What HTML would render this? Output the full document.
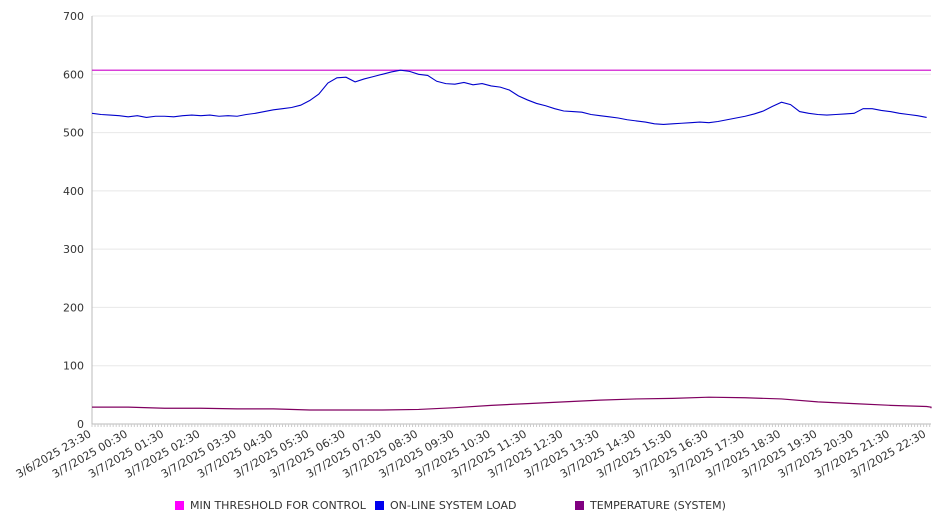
<!DOCTYPE html>
<html><head><meta charset="utf-8"><style>
body{margin:0;background:#fff;}
svg{display:block;font-family:"DejaVu Sans","Liberation Sans",sans-serif;}
</style></head><body>
<svg id="chart" width="946" height="526">
<g id="grid"></g>
<g id="yaxis"></g>
<g id="xaxis"></g>
<g id="series"></g>
<g font-size="11" fill="#333">
 <g><rect x="175" y="501" width="9" height="9" fill="#ff00ff"/><text x="190" y="509">MIN THRESHOLD FOR CONTROL</text></g>
 <g><rect x="375" y="501" width="9" height="9" fill="#0000ee"/><text x="390" y="509">ON-LINE SYSTEM LOAD</text></g>
 <g><rect x="575" y="501" width="9" height="9" fill="#800080"/><text x="590" y="509">TEMPERATURE (SYSTEM)</text></g>
</g>
</svg>
<script>
const xLabels=["3/6/2025 23:30","3/7/2025 00:30","3/7/2025 01:30","3/7/2025 02:30","3/7/2025 03:30","3/7/2025 04:30","3/7/2025 05:30","3/7/2025 06:30","3/7/2025 07:30","3/7/2025 08:30","3/7/2025 09:30","3/7/2025 10:30","3/7/2025 11:30","3/7/2025 12:30","3/7/2025 13:30","3/7/2025 14:30","3/7/2025 15:30","3/7/2025 16:30","3/7/2025 17:30","3/7/2025 18:30","3/7/2025 19:30","3/7/2025 20:30","3/7/2025 21:30","3/7/2025 22:30"];
const yTicks=[0,100,200,300,400,500,600,700];
const threshold=607;
// system load, every 15 minutes from 23:30
const loadValues=[533,531,530,529,527,529,526,528,528,527,529,530,529,530,528,529,528,531,533,536,539,541,543,547,555,566,585,594,595,587,592,596,600,604,607,605,600,598,588,584,583,586,582,584,580,578,573,563,556,550,546,541,537,536,535,531,529,527,525,522,520,518,515,514,515,516,517,518,517,519,522,525,528,532,537,545,552,548,536,533,531,530,531,532,533,541,541,538,536,533,531,529,526];
// temperature, hourly from 23:30
const tempValues=[29,29,27,27,26,26,24,24,24,25,28,32,35,38,41,43,44,46,45,43,38,35,32,30,29,27];
const NS="http://www.w3.org/2000/svg";
const X0=92,X1=931,Y0=424,Y1=16,HMAX=23.12;
const xs=h=>X0+(X1-X0)*h/HMAX;
const ys=v=>Y0-(Y0-Y1)*v/700;
function mk(tag,parent,attrs){const e=document.createElementNS(NS,tag);for(const k in attrs)e.setAttribute(k,attrs[k]);parent.appendChild(e);return e;}
const grid=document.getElementById('grid'),ya=document.getElementById('yaxis'),xa=document.getElementById('xaxis'),se=document.getElementById('series');
yTicks.forEach(v=>{
 const l=mk('line',grid,{x1:X0,x2:X1,y1:ys(v),y2:ys(v),stroke:v===0?'#bbb':'#e8e8e8'});
 
 
 const t=mk('text',ya,{x:84,y:ys(v)+4,'text-anchor':'end','font-size':11,fill:'#333'});
 t.textContent=v;
 
 
});
mk('line',ya,{x1:X0,x2:X0,y1:Y1,y2:Y0,stroke:'#bbb'});
for(let m=0;m<=HMAX*60;m+=5){mk('line',xa,{x1:xs(m/60),x2:xs(m/60),y1:Y0,y2:Y0+3,stroke:'#ccc'});}
xLabels.forEach((s,i)=>{
 const x=xs(i),y=Y0+12;
 const t=mk('text',xa,{x:x,y:y,'text-anchor':'end','font-size':11,fill:'#333',transform:`rotate(-30 ${x} ${y})`});
 t.textContent=s;
 
 
});
const th=mk('line',se,{x1:X0,x2:X1,y1:ys(threshold),y2:ys(threshold),stroke:'#cc00cc','stroke-width':1.2});


const lp=mk('polyline',se,{fill:'none',stroke:'#0000cc','stroke-width':1.1,points:loadValues.map((v,i)=>xs(Math.min(i*0.25,HMAX))+','+ys(v)).join(' ')});


const tp=mk('polyline',se,{fill:'none',stroke:'#800060','stroke-width':1.2,points:tempValues.map((v,i)=>xs(Math.min(i,HMAX))+','+ys(v)).join(' ')});


</script>
</body></html>
